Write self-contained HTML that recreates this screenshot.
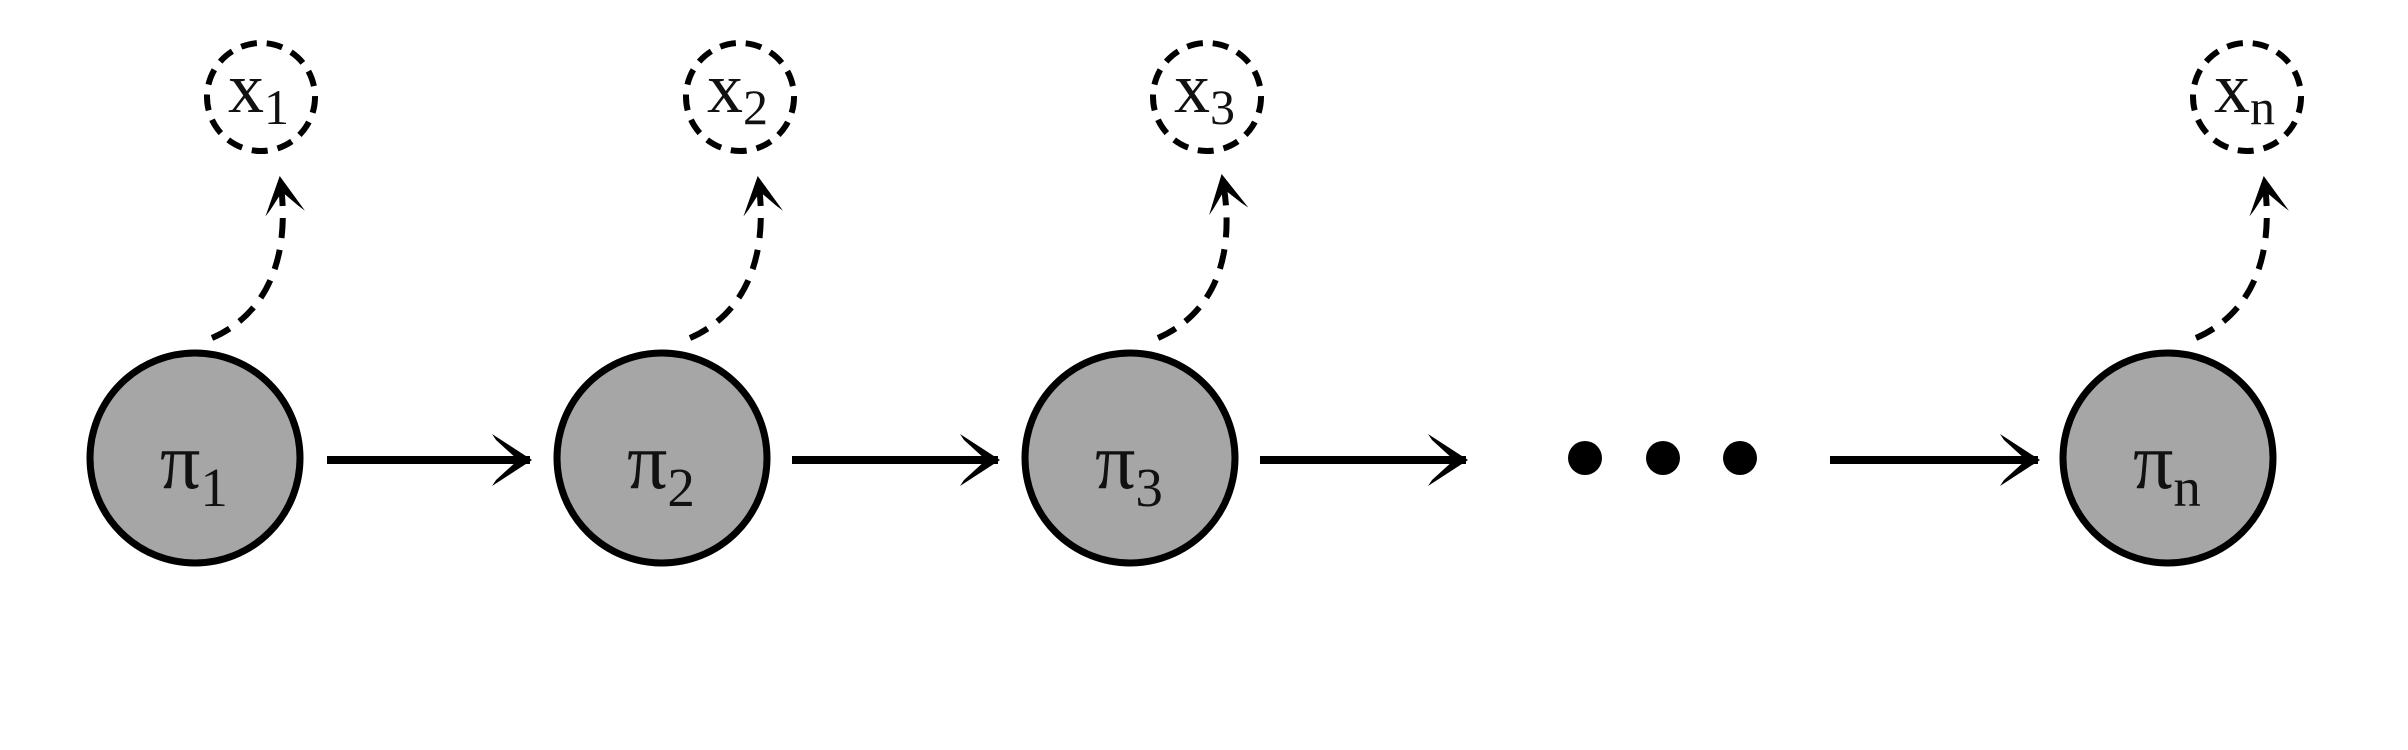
<!DOCTYPE html>
<html><head><meta charset="utf-8"><style>
html,body{margin:0;padding:0;background:#fff;}
svg{display:block;}
text{font-family:"Liberation Serif","DejaVu Serif",serif;fill:#111;}
</style></head><body>
<svg width="2408" height="750" viewBox="0 0 2408 750" xmlns="http://www.w3.org/2000/svg">
<defs>
<marker id="ah" markerUnits="userSpaceOnUse" markerWidth="60" markerHeight="60" refX="42" refY="30" orient="auto">
<path d="M4 4 L44 30 L4 56 L8 50 L30 30 L8 10 Z" fill="#000"/>
</marker>
<marker id="ah2" markerUnits="userSpaceOnUse" markerWidth="60" markerHeight="60" refX="40" refY="30" orient="auto">
<path d="M4 10 L42 30 L4 50 L10 44 L26 30 L10 16 Z" fill="#000"/>
</marker>
</defs>
<rect width="2408" height="750" fill="#fff"/>
<g stroke="#000" stroke-width="8" fill="none">
<line x1="327" y1="460" x2="530" y2="460" marker-end="url(#ah)"/>
<line x1="792" y1="460" x2="998" y2="460" marker-end="url(#ah)"/>
<line x1="1260" y1="460" x2="1466" y2="460" marker-end="url(#ah)"/>
<line x1="1830" y1="460" x2="2038" y2="460" marker-end="url(#ah)"/>
</g>
<g fill="#000"><circle cx="1585" cy="458" r="17"/><circle cx="1663" cy="458" r="17"/><circle cx="1740" cy="458" r="17"/></g>
<g fill="#a6a6a6" stroke="#000" stroke-width="7">
<circle cx="195" cy="458" r="105"/><circle cx="662" cy="458" r="105"/><circle cx="1130" cy="458" r="105"/><circle cx="2168" cy="458" r="105"/>
</g>
<g fill="none" stroke="#000" stroke-width="6" stroke-dasharray="16 10">
<circle cx="261" cy="97" r="54"/><circle cx="740" cy="97" r="54"/><circle cx="1207" cy="97" r="54"/><circle cx="2247" cy="97" r="54"/>
</g>
<g fill="none" stroke="#000" stroke-width="6" stroke-dasharray="20 12">
<path d="M212 338 C265 315 292 260 280 178" marker-end="url(#ah2)"/>
<path d="M690 338 C743 315 770 260 758 178" marker-end="url(#ah2)"/>
<path d="M1158 338 C1211 315 1238 260 1222 176" marker-end="url(#ah2)"/>
<path d="M2196 338 C2249 315 2276 260 2264 178" marker-end="url(#ah2)"/>
</g>
<g font-size="80">
<text x="160" y="488">π<tspan font-size="55" dy="18">1</tspan></text>
<text x="627" y="488">π<tspan font-size="55" dy="18">2</tspan></text>
<text x="1095" y="488">π<tspan font-size="55" dy="18">3</tspan></text>
<text x="2133" y="488">π<tspan font-size="55" dy="18">n</tspan></text>
</g>
<g font-size="72">
<text x="228" y="112">x<tspan font-size="50" dy="12">1</tspan></text>
<text x="707" y="112">x<tspan font-size="50" dy="12">2</tspan></text>
<text x="1174" y="112">x<tspan font-size="50" dy="12">3</tspan></text>
<text x="2214" y="112">x<tspan font-size="50" dy="12">n</tspan></text>
</g>
</svg>
</body></html>
